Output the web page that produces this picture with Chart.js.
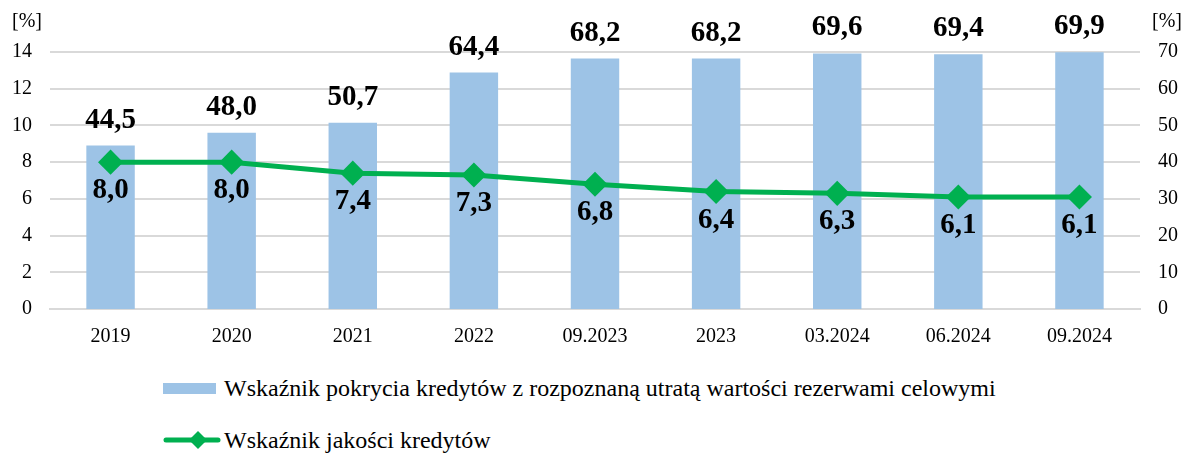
<!DOCTYPE html>
<html>
<head>
<meta charset="utf-8">
<script src="https://cdn.jsdelivr.net/npm/chart.js@4"></script>
<style>
  body { margin: 0; background: #fff; font-family: "Liberation Serif", serif; }
  #wrap { position: relative; width: 1187px; height: 454px; }
  #chart { position: absolute; left: 0; top: 0; }
  .leg { position: absolute; left: 163px; font-size: 24px; line-height: 28px; color: #000; display: flex; align-items: center; white-space: nowrap; }
  .sw { width: 53px; height: 11px; background: #9DC3E6; margin-right: 8px; }
</style>
</head>
<body>
<div id="wrap">
  <canvas id="chart" width="1187" height="360"></canvas>
  <div class="leg" style="top:374px"><span class="sw"></span>Wskaźnik pokrycia kredytów z rozpoznaną utratą wartości rezerwami celowymi</div>
  <div class="leg" style="top:426px"><canvas id="legLine" width="58" height="20" style="margin-right:3px"></canvas>Wskaźnik jakości kredytów</div>
</div>
<script>
// categories and values
var categories = ['2019', '2020', '2021', '2022', '09.2023', '2023', '03.2024', '06.2024', '09.2024'];
var coverage = [44.5, 48.0, 50.7, 64.4, 68.2, 68.2, 69.6, 69.4, 69.9];   // bars, right axis
var quality = [8.0, 8.0, 7.4, 7.3, 6.8, 6.4, 6.3, 6.1, 6.1];             // line, left axis
var leftTicks = [0, 2, 4, 6, 8, 10, 12, 14];
var rightTicks = [0, 10, 20, 30, 40, 50, 60, 70];

var green = '#00B050';
var blue = '#9DC3E6';
var serif = '"Liberation Serif", "Times New Roman", serif';

function fmt(v) { return v.toFixed(1).replace('.', ','); }

// value labels + [%] titles
var labelPlugin = {
  id: 'labels',
  afterDatasetsDraw: function (chart) {
    var ctx = chart.ctx;
    ctx.save();
    ctx.fillStyle = '#000';
    ctx.font = 'bold 29px ' + serif;
    ctx.textAlign = 'center';
    ctx.textBaseline = 'alphabetic';
    chart.getDatasetMeta(1).data.forEach(function (el, i) {
      ctx.fillText(fmt(coverage[i]), el.x, el.y - 18);
    });
    chart.getDatasetMeta(0).data.forEach(function (el, i) {
      ctx.fillText(fmt(quality[i]), el.x, el.y + 36);
    });
    ctx.font = '20px ' + serif;
    ctx.textBaseline = 'middle';
    ctx.fillText('[%]', 27, 22);
    ctx.fillText('[%]', 1167, 22);
    ctx.restore();
  }
};

new Chart(document.getElementById('chart').getContext('2d'), {
  data: {
    labels: categories,
    datasets: [{
      type: 'line',
      label: 'Wskaźnik jakości kredytów',
      data: quality,
      yAxisID: 'yL',
      borderColor: green,
      backgroundColor: green,
      borderWidth: 5,
      pointStyle: 'rectRot',
      pointRadius: 9,
      pointHoverRadius: 9,
      tension: 0,
      order: 0
    }, {
      type: 'bar',
      label: 'Wskaźnik pokrycia kredytów z rozpoznaną utratą wartości rezerwami celowymi',
      data: coverage,
      yAxisID: 'yR',
      backgroundColor: blue,
      categoryPercentage: 1,
      barPercentage: 0.4,
      order: 1
    }]
  },
  options: {
    responsive: false,
    animation: false,
    layout: { padding: { top: 52, right: 0, left: 0, bottom: 0 } },
    plugins: { legend: { display: false }, tooltip: { enabled: false } },
    scales: {
      x: {
        grid: { display: false },
        border: { color: '#D9D9D9', width: 2 },
        ticks: { color: '#000', font: { family: serif, size: 20 }, padding: 8 },
        afterFit: function (s) { s.height = 51; }
      },
      yL: {
        position: 'left',
        min: 0, max: 14,
        afterBuildTicks: function (s) { s.ticks = leftTicks.map(function (v) { return { value: v }; }); },
        grid: { color: '#D9D9D9', lineWidth: 2, drawTicks: false },
        border: { display: false },
        ticks: { color: '#000', font: { family: serif, size: 20 }, padding: 18 },
        afterFit: function (s) { s.width = 50; }
      },
      yR: {
        position: 'right',
        min: 0, max: 70,
        afterBuildTicks: function (s) { s.ticks = rightTicks.map(function (v) { return { value: v }; }); },
        grid: { display: false, drawTicks: false },
        border: { display: false },
        ticks: { color: '#000', font: { family: serif, size: 20 }, padding: 18 },
        afterFit: function (s) { s.width = 47; }
      }
    }
  },
  plugins: [labelPlugin]
});

// legend line marker
var lc = document.getElementById('legLine').getContext('2d');
lc.strokeStyle = green; lc.lineWidth = 5; lc.lineCap = 'round';
lc.beginPath(); lc.moveTo(3, 10); lc.lineTo(55, 10); lc.stroke();
lc.fillStyle = green;
lc.beginPath(); lc.moveTo(35, 1); lc.lineTo(44, 10); lc.lineTo(35, 19); lc.lineTo(26, 10); lc.closePath(); lc.fill();
</script>
</body>
</html>
